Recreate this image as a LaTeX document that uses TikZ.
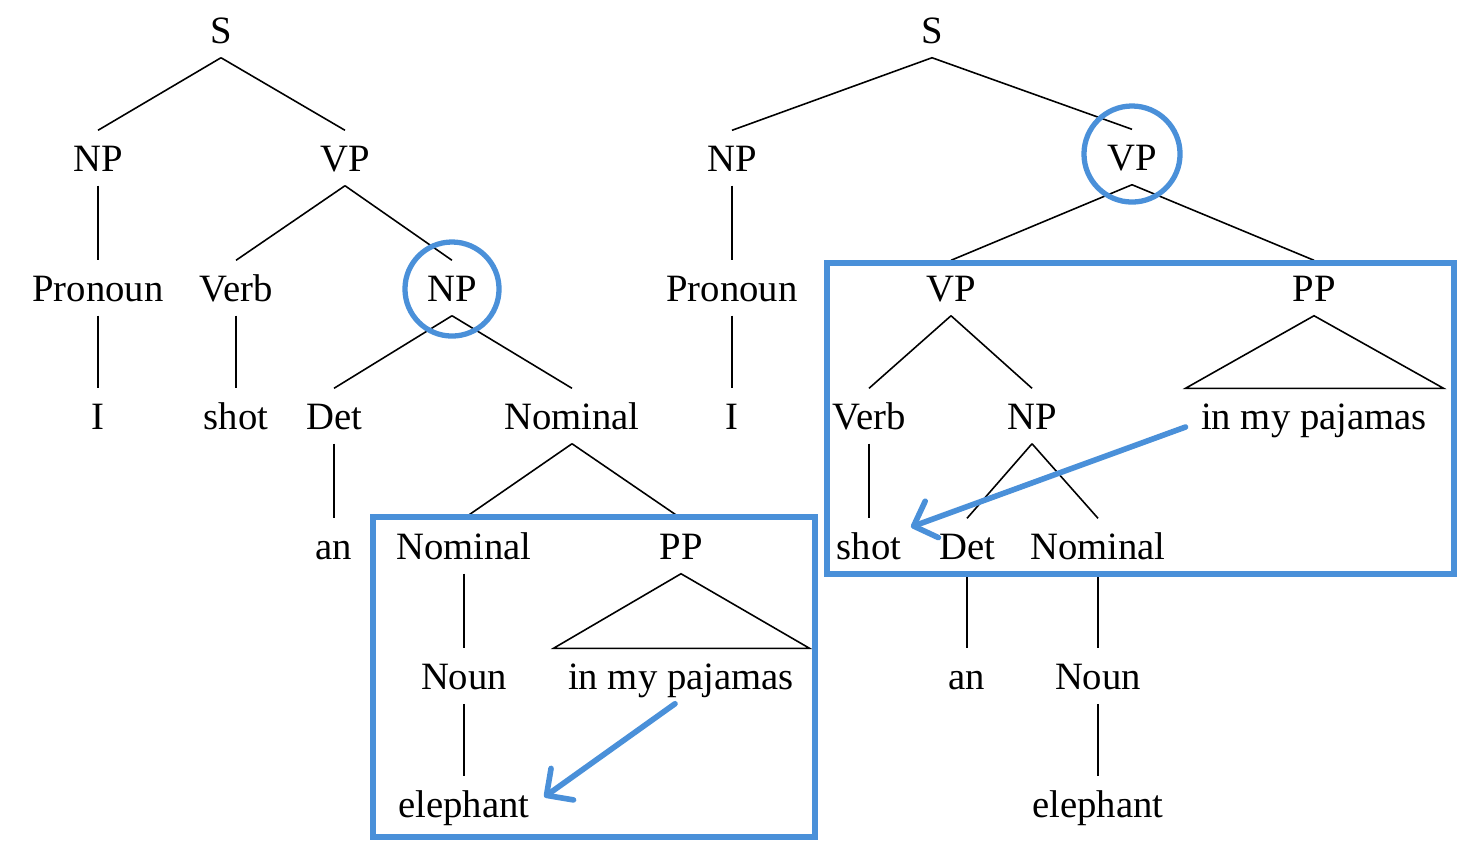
\documentclass[tikz,border=0pt]{standalone}
\usepackage{fontspec}
\setmainfont{Liberation Serif}
\usetikzlibrary{arrows.meta, positioning}
\definecolor{hlblue}{RGB}{74, 144, 217}

\begin{document}
\begin{tikzpicture}[
    x=0.01cm, y=-0.01cm,
    font=\fontsize{11}{13}\selectfont,
    tn/.style={inner sep=0pt, minimum height=0.54cm, text height=8pt, text depth=0.5pt},
    edge/.style={line width=0.45pt},
    hl/.style={draw=hlblue, line width=1.5pt},
    hlarrow/.style={hlblue, line width=1.6pt, line cap=round, -{Straight Barb[length=5.5pt, width=11pt, round]}}
]
\useasboundingbox (0,0) rectangle (1480,850);

% Left tree
\node[tn] (lS) at (221,30) {S};
\node[tn] (lNP) at (98,158) {NP};
\node[tn] (lVP) at (345,158) {VP};
\node[tn] (lPron) at (98,288) {Pronoun};
\node[tn] (lVerb) at (236,288) {Verb};
\node[tn] (lNPb) at (452,288) {NP};
\node[tn] (lI) at (98,416) {I};
\node[tn] (lShot) at (236,416) {shot};
\node[tn] (lDet) at (334,416) {Det};
\node[tn] (lNom) at (572,416) {Nominal};
\node[tn] (lAn) at (334,546) {an};
\node[tn] (lNomb) at (464,546) {Nominal};
\node[tn] (lPP) at (681,546) {PP};
\node[tn] (lNoun) at (464,676) {Noun};
\node[tn] (lPj) at (681,676) {in my pajamas};
\node[tn] (lEleph) at (464,804) {elephant};

% Right tree
\node[tn] (rS) at (932,30) {S};
\node[tn] (rNP) at (732,158) {NP};
\node[tn] (rVP) at (1132,157) {VP};
\node[tn] (rPron) at (732,288) {Pronoun};
\node[tn] (rVPb) at (951,288) {VP};
\node[tn] (rPP) at (1314,288) {PP};
\node[tn] (rI) at (732,416) {I};
\node[tn] (rVerb) at (869,416) {Verb};
\node[tn] (rNPb) at (1032,416) {NP};
\node[tn] (rPj) at (1314,416) {in my pajamas};
\node[tn] (rShot) at (869,546) {shot};
\node[tn] (rDet) at (967,546) {Det};
\node[tn] (rNom) at (1098,546) {Nominal};
\node[tn] (rAn) at (967,676) {an};
\node[tn] (rNoun) at (1098,676) {Noun};
\node[tn] (rEleph) at (1098,804) {elephant};

% Left branches
\draw[edge] (lS.south) -- (lNP.north);
\draw[edge] (lS.south) -- (lVP.north);
\draw[edge] (lNP.south) -- (lPron.north);
\draw[edge] (lPron.south) -- (lI.north);
\draw[edge] (lVP.south) -- (lVerb.north);
\draw[edge] (lVP.south) -- (lNPb.north);
\draw[edge] (lVerb.south) -- (lShot.north);
\draw[edge] (lNPb.south) -- (lDet.north);
\draw[edge] (lNPb.south) -- (lNom.north);
\draw[edge] (lDet.south) -- (lAn.north);
\draw[edge] (lNom.south) -- (lNomb.north);
\draw[edge] (lNom.south) -- (lPP.north);
\draw[edge] (lNomb.south) -- (lNoun.north);
\draw[edge] (lNoun.south) -- (lEleph.north);
\draw[edge] (lPP.south) -- ([xshift=-0.14cm]lPj.north west) -- ([xshift=0.15cm]lPj.north east) -- cycle;

% Right branches
\draw[edge] (rS.south) -- (rNP.north);
\draw[edge] (rS.south) -- (rVP.north);
\draw[edge] (rNP.south) -- (rPron.north);
\draw[edge] (rPron.south) -- (rI.north);
\draw[edge] (rVP.south) -- (rVPb.north);
\draw[edge] (rVP.south) -- (rPP.north);
\draw[edge] (rVPb.south) -- (rVerb.north);
\draw[edge] (rVPb.south) -- (rNPb.north);
\draw[edge] (rVerb.south) -- (rShot.north);
\draw[edge] (rNPb.south) -- (rDet.north);
\draw[edge] (rNPb.south) -- (rNom.north);
\draw[edge] (rDet.south) -- (rAn.north);
\draw[edge] (rNom.south) -- (rNoun.north);
\draw[edge] (rNoun.south) -- (rEleph.north);
\draw[edge] (rPP.south) -- ([xshift=-0.15cm]rPj.north west) -- ([xshift=0.16cm]rPj.north east) -- cycle;

% Highlights
\draw[hl] ([yshift=-0.01cm]lNPb.center) circle[radius=0.47cm];
\draw[hl] ([yshift=0.03cm]rVP.center) circle[radius=0.48cm];
\draw[hl] (373,517) rectangle (815,837);
\draw[hl] (827,263) rectangle (1454,574);

% Attachment arrows
\draw[hlarrow] ([xshift=-0.06cm]lPj.south) -- ([xshift=0.14cm, yshift=0.07cm]lEleph.east);
\draw[hlarrow] ([xshift=-0.15cm, yshift=-0.11cm]rPj.west) -- ([xshift=0.09cm, yshift=0.19cm]rShot.east);

\end{tikzpicture}
\end{document}
